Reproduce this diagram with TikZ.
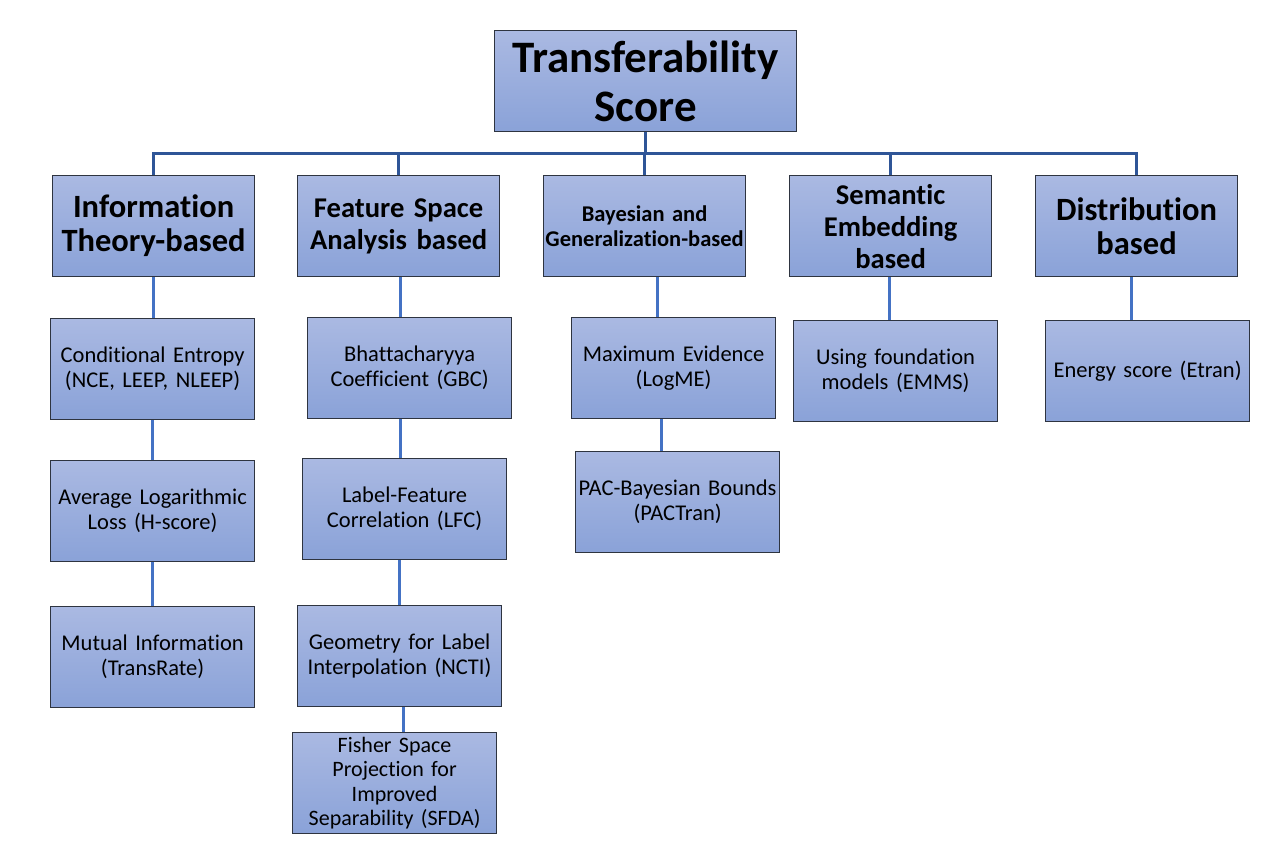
\documentclass[tikz,border=0pt]{standalone}
\usepackage{fontspec}
\setmainfont{Carlito}[Ligatures=NoCommon]
\usepackage{tikz}

\definecolor{boxtop}{HTML}{AAB9E2}
\definecolor{boxbot}{HTML}{8AA2D8}
\definecolor{boxline}{HTML}{2E3440}
\definecolor{trunkblue}{HTML}{2F5597}
\definecolor{linkblue}{HTML}{4472C4}

\tikzset{
  tbox/.style={draw=boxline, line width=1.2pt, top color=boxtop, bottom color=boxbot,
    anchor=north west, align=center, inner sep=1pt},
  titlebox/.style={tbox, minimum width=302, minimum height=101, text width=298,
    font=\fontsize{45}{49}\selectfont\bfseries},
  catbox/.style={tbox, minimum width=202, minimum height=101, text width=200,
    font=\fontsize{32.5}{34}\selectfont\bfseries},
  smallcat/.style={font=\fontsize{28.6}{32}\selectfont\bfseries},
  methodbox/.style={tbox, minimum width=204, minimum height=101, text width=202,
    font=\fontsize{22.5}{25}\selectfont},
  trunk/.style={draw=trunkblue, line width=3pt},
  link/.style={draw=linkblue, line width=3pt}
}
% vertical link from parent to child at a fixed x
\newcommand{\linkx}[3]{\draw[link] (#1.south -| #3,0) -- (#2.north -| #3,0);}

\begin{document}
\begin{tikzpicture}[x=1pt,y=-1pt]
\useasboundingbox (0,0) rectangle (1280,847);

% root
\node[titlebox] (score) at (494,30) {Transferability\\Score};

% categories
\node[catbox] (info) at (52,175) {Information\\Theory-based};
\node[catbox, smallcat] (feat) at (297,175) {Feature Space\\Analysis based};
\node[catbox, font=\fontsize{22.5}{25}\selectfont\bfseries] (bayes) at (543,175) {Bayesian and\\Generalization-based};
\node[catbox, smallcat] (sem) at (789,175) {Semantic\\Embedding\\based};
\node[catbox] (dist) at (1035,175) {Distribution\\based};

\coordinate (bus) at (0,153);
\foreach \c in {info,feat,bayes,sem,dist}
  \draw[trunk] (score.south) -- (score.south |- bus) -| (\c.north);

% information theory
\node[methodbox] (nce) at (50,318) {Conditional Entropy\\(NCE, LEEP, NLEEP)};
\node[methodbox] (hscore) at (50,460) {Average Logarithmic\\Loss (H-score)};
\node[methodbox] (transrate) at (50,606) {Mutual Information\\(TransRate)};
\linkx{info}{nce}{153}
\linkx{nce}{hscore}{152}
\linkx{hscore}{transrate}{152}

% feature space
\node[methodbox] (gbc) at (307,317) {Bhattacharyya\\Coefficient (GBC)};
\node[methodbox] (lfc) at (302,458) {Label-Feature\\Correlation (LFC)};
\node[methodbox] (ncti) at (297,605) {Geometry for Label\\Interpolation (NCTI)};
\node[methodbox, font=\fontsize{22}{24.3}\selectfont] (sfda) at (292,732) {Fisher Space\\Projection for\\Improved\\Separability (SFDA)};
\linkx{feat}{gbc}{400}
\linkx{gbc}{lfc}{400}
\linkx{lfc}{ncti}{399}
\linkx{ncti}{sfda}{403}

% bayesian
\node[methodbox] (logme) at (571,317) {Maximum Evidence\\(LogME)};
\node[methodbox] (pactran) at (575,451) {PAC-Bayesian Bounds\\(PACTran)};
\linkx{bayes}{logme}{657}
\linkx{logme}{pactran}{661}

% semantic embedding
\node[methodbox] (emms) at (793,320) {Using foundation\\models (EMMS)};
\linkx{sem}{emms}{889}

% distribution
\node[methodbox] (etran) at (1045,320) {Energy score (Etran)};
\linkx{dist}{etran}{1131}

\end{tikzpicture}
\end{document}
